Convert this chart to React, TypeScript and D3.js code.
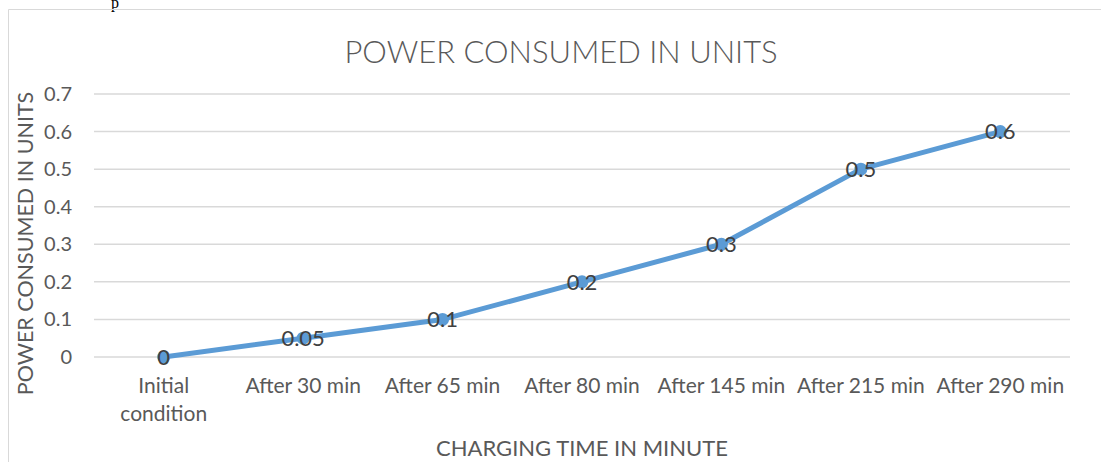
import React from "react";
import * as d3 from "d3";

const categories: string[][] = [
  ["Initial", "condition"],
  ["After 30 min"],
  ["After 65 min"],
  ["After 80 min"],
  ["After 145 min"],
  ["After 215 min"],
  ["After 290 min"],
];
const values: number[] = [0, 0.05, 0.1, 0.2, 0.3, 0.5, 0.6];
const labels: string[] = ["0", "0.05", "0.1", "0.2", "0.3", "0.5", "0.6"];
const yTicks: number[] = [0, 0.1, 0.2, 0.3, 0.4, 0.5, 0.6, 0.7];

const W = 1101;
const H = 462;
const left = 94;
const right = 1070;
const top = 94;
const bottom = 357;
const font = "Lato, 'Open Sans', sans-serif";
const textColor = "#595959";

export default function App() {
  const x = d3.scaleBand<number>().domain(d3.range(categories.length)).range([left, right]);
  const y = d3.scaleLinear().domain([0, 0.7]).range([bottom, top]);
  const cx = (i: number) => (x(i) as number) + x.bandwidth() / 2;
  const line = d3
    .line<number>()
    .x((_, i) => cx(i))
    .y((d) => y(d));

  return (
    <svg
      width={W}
      height={H}
      style={{ position: "absolute", left: 0, top: 0, background: "#fff" }}
    >
      <text x={111} y={8} fontFamily="'Liberation Serif', serif" fontSize={16} fill="#000">
        p
      </text>
      <path d={`M8.5,${H} V9.5 H${W}`} fill="none" stroke="#d9d9d9" strokeWidth={1} />
      <text
        x={561}
        y={63}
        textAnchor="middle"
        fontFamily={font}
        fontWeight={300}
        fontSize={31}
        fill={textColor}
      >
        POWER CONSUMED IN UNITS
      </text>
      {yTicks.map((t) => (
        <g key={t}>
          <line x1={left} x2={right} y1={y(t)} y2={y(t)} stroke="#d9d9d9" strokeWidth={1.5} />
          <text
            x={72}
            y={y(t)}
            dy="0.35em"
            textAnchor="end"
            fontFamily={font}
            fontSize={20}
            fill={textColor}
          >
            {t === 0 ? "0" : t.toFixed(1)}
          </text>
        </g>
      ))}
      {categories.map((c, i) => (
        <text
          key={i}
          x={cx(i)}
          y={393}
          textAnchor="middle"
          fontFamily={font}
          fontSize={21}
          fill={textColor}
        >
          {c.map((s, j) => (
            <tspan key={j} x={cx(i)} dy={j === 0 ? 0 : 28}>
              {s}
            </tspan>
          ))}
        </text>
      ))}
      <text
        transform={`translate(33,${(95 + 392) / 2}) rotate(-90)`}
        textAnchor="middle"
        fontFamily={font}
        fontSize={21.5}
        fill={textColor}
      >
        POWER CONSUMED IN UNITS
      </text>
      <text
        x={582}
        y={456}
        textAnchor="middle"
        fontFamily={font}
        fontSize={22}
        fill={textColor}
      >
        CHARGING TIME IN MINUTE
      </text>
      <path
        d={line(values) || ""}
        fill="none"
        stroke="#5B9BD5"
        strokeWidth={5}
        strokeLinejoin="round"
        strokeLinecap="round"
      />
      {values.map((v, i) => (
        <circle key={i} cx={cx(i)} cy={y(v)} r={6.5} fill="#5B9BD5" />
      ))}
      {values.map((v, i) => (
        <text
          key={i}
          x={cx(i)}
          y={y(v)}
          dy="0.35em"
          textAnchor="middle"
          fontFamily={font}
          fontSize={22}
          fill="#404040"
        >
          {labels[i]}
        </text>
      ))}
    </svg>
  );
}
